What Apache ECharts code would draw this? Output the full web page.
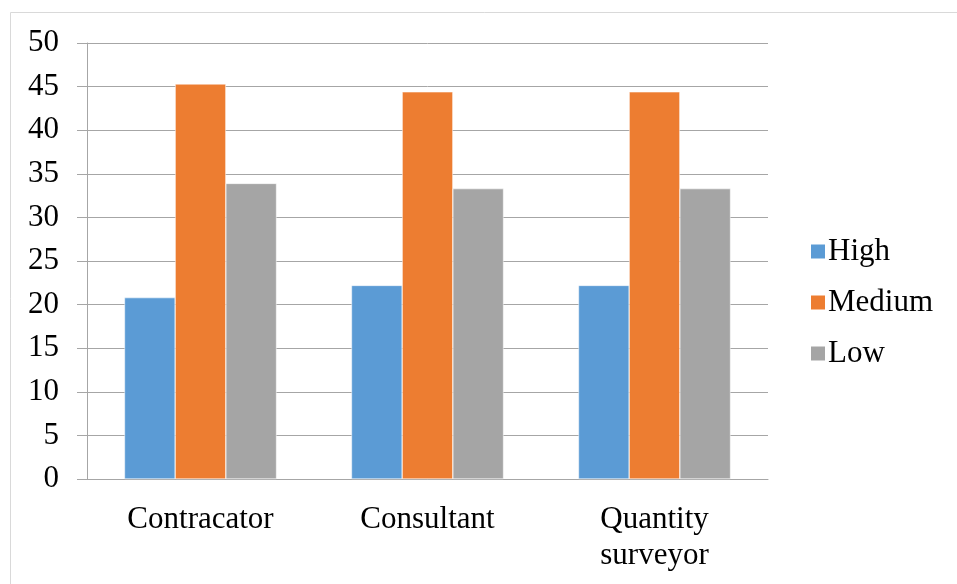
<!DOCTYPE html>
<html>
<head>
<meta charset="utf-8">
<script src="https://cdn.jsdelivr.net/npm/echarts@6/dist/echarts.min.js"></script>
<style>
  html, body { margin: 0; padding: 0; background: #fff; }
  #chart { width: 957px; height: 584px; }
</style>
</head>
<body>
<div id="chart"></div>
<script>
// categories and values
const categories = ['Contracator', 'Consultant', 'Quantity\nsurveyor'];
const highValues = [20.8, 22.2, 22.2];
const mediumValues = [45.3, 44.4, 44.4];
const lowValues = [33.9, 33.3, 33.3];
const yTicks = [0, 5, 10, 15, 20, 25, 30, 35, 40, 45, 50];

const font = '"Liberation Serif", "Times New Roman", serif';
const gridColor = '#a6a6a6';

const chart = echarts.init(document.getElementById('chart'));
chart.setOption({
  animation: false,
  textStyle: { fontFamily: font },
  graphic: [{
    type: 'rect',
    shape: { x: 10.5, y: 12.5, width: 960, height: 600 },
    style: { fill: 'none', stroke: '#d9d9d9', lineWidth: 1 },
    silent: true
  }],
  grid: { left: 87, right: 189, top: 43, bottom: 105 },
  legend: {
    orient: 'vertical',
    left: 804,
    top: 231,
    itemWidth: 16,
    itemHeight: 16,
    itemGap: 20,
    icon: 'rect',
    textStyle: { fontFamily: font, fontSize: 31, lineHeight: 31, color: '#000', padding: [0, 0, 0, -3] },
    data: ['High', 'Medium', 'Low']
  },
  xAxis: {
    type: 'category',
    data: categories,
    axisLine: { lineStyle: { color: gridColor, width: 1 } },
    axisTick: { length: 10, lineStyle: { color: gridColor } },
    axisLabel: { color: '#000', fontSize: 31, fontFamily: font, margin: 23, lineHeight: 36 }
  },
  yAxis: {
    type: 'value',
    min: yTicks[0],
    max: yTicks[yTicks.length - 1],
    interval: 5,
    axisLine: { show: true, lineStyle: { color: gridColor, width: 1 } },
    axisTick: { show: true, length: 10, lineStyle: { color: gridColor } },
    splitLine: { lineStyle: { color: gridColor, width: 1 } },
    axisLabel: { color: '#000', fontSize: 31, fontFamily: font, margin: 28 }
  },
  series: [
    { name: 'High', type: 'bar', data: highValues, barGap: '0%', barCategoryGap: '33%',
      itemStyle: { color: '#5b9bd5', borderColor: '#fff', borderWidth: 0.5 } },
    { name: 'Medium', type: 'bar', data: mediumValues, barGap: '0%', barCategoryGap: '33%',
      itemStyle: { color: '#ed7d31', borderColor: '#fff', borderWidth: 0.5 } },
    { name: 'Low', type: 'bar', data: lowValues, barGap: '0%', barCategoryGap: '33%',
      itemStyle: { color: '#a5a5a5', borderColor: '#fff', borderWidth: 0.5 } }
  ]
});
</script>
</body>
</html>
